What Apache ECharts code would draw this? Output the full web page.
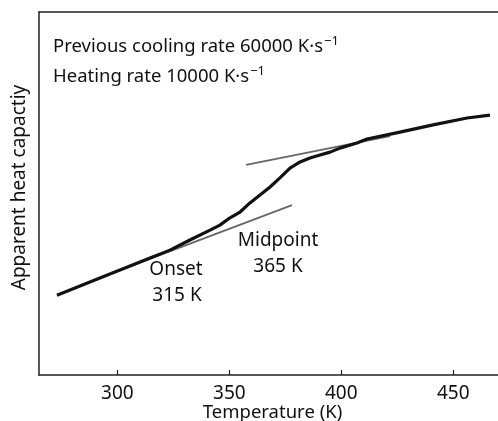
<!DOCTYPE html>
<html><head><meta charset="utf-8">
<script src="https://cdn.jsdelivr.net/npm/echarts@6/dist/echarts.min.js"></script>
<style>html,body{margin:0;padding:0;background:#fff}#c{width:498px;height:421px}</style>
</head><body><div id="c"></div>
<script>
// Temperature (K) and apparent heat capacity (arbitrary units, 0-100 scale)
const curveT = [273.0, 283.3, 292.2, 303.4, 314.6, 323.5, 332.4, 341.4, 345.8, 350.3, 354.8, 359.2, 363.7, 368.2, 372.6, 377.1, 381.6, 386.0, 390.5, 395.0, 399.4, 407.0, 411.5, 426.2, 441.0, 456.2, 466.4];
const curveCp = [22.0, 24.5, 26.7, 29.5, 32.2, 34.4, 37.2, 39.9, 41.3, 43.3, 44.9, 47.4, 49.6, 51.8, 54.3, 57.0, 58.7, 59.8, 60.6, 61.4, 62.5, 63.9, 65.0, 66.9, 68.9, 70.8, 71.6];
const lowTangentT = [301.2, 378.0];
const lowTangentCp = [28.9, 46.8];
const highTangentT = [357.5, 421.8];
const highTangentCp = [57.9, 65.8];
const xTicks = [300, 350, 400, 450];
const xName = 'Temperature (K)';
const yName = 'Apparent heat capactiy';
const note1 = 'Previous cooling rate 60000 K·s';
const note2 = 'Heating rate 10000 K·s';
const supText = '−1';
const onsetText = ['Onset', '315 K'];
const midText = ['Midpoint', '365 K'];

const zip = (a, b) => a.map((v, i) => [v, b[i]]);
const FONT = 'Noto Sans';
const chart = echarts.init(document.getElementById('c'), null, {renderer: 'canvas'});
const supRich = {
  a: {fontFamily: FONT, fontSize: 18.5, fill: '#111'},
  s: {fontFamily: FONT, fontSize: 13, fill: '#111', verticalAlign: 'top', padding: [0, 0, 10, 1]}
};
chart.setOption({
  animation: false,
  backgroundColor: '#fff',
  grid: {left: 39, right: 0, top: 12, bottom: 46, containLabel: false, outerBoundsMode: 'none'},
  xAxis: [{
    type: 'value', min: 265, max: 470,
    name: xName, nameLocation: 'middle', nameGap: 28, nameMoveOverlap: false,
    nameTextStyle: {fontFamily: FONT, fontSize: 18.5, color: '#111', padding: [0, 0, 0, 8]},
    axisLine: {show: true, lineStyle: {color: '#222', width: 1.5}},
    axisTick: {show: true, inside: true, length: 5, customValues: xTicks, lineStyle: {color: '#222', width: 1.2}},
    axisLabel: {customValues: xTicks, margin: 9, fontFamily: FONT, fontSize: 19, color: '#111'},
    splitLine: {show: false}
  }, {
    type: 'value', min: 265, max: 470, position: 'top',
    axisLine: {show: true, lineStyle: {color: '#222', width: 1.5}},
    axisTick: {show: false}, axisLabel: {show: false}, splitLine: {show: false}
  }],
  yAxis: {
    type: 'value', min: 0, max: 100,
    name: yName, nameLocation: 'middle', nameGap: 10, nameMoveOverlap: false,
    nameTextStyle: {fontFamily: FONT, fontSize: 19, color: '#111', padding: [0, 0, 0, 12]},
    axisLine: {show: true, lineStyle: {color: '#222', width: 1.5}},
    axisTick: {show: false}, axisLabel: {show: false}, splitLine: {show: false}
  },
  series: [
    {type: 'line', data: zip(lowTangentT, lowTangentCp), showSymbol: false, lineStyle: {color: '#666', width: 1.8}, z: 2},
    {type: 'line', data: zip(highTangentT, highTangentCp), showSymbol: false, lineStyle: {color: '#666', width: 1.8}, z: 2},
    {type: 'line', data: zip(curveT, curveCp), showSymbol: false, lineStyle: {color: '#111', width: 3.2, join: 'round'}, z: 3}
  ],
  graphic: [
    {type: 'text', left: 53, top: 35, style: {text: '{a|' + note1 + '}{s|' + supText + '}', rich: supRich}},
    {type: 'text', left: 53, top: 65, style: {text: '{a|' + note2 + '}{s|' + supText + '}', rich: supRich}},
    {type: 'text', x: 176, y: 270, style: {text: onsetText[0], font: '19px "Noto Sans"', fill: '#111', align: 'center', verticalAlign: 'middle'}},
    {type: 'text', x: 177, y: 296, style: {text: onsetText[1], font: '19px "Noto Sans"', fill: '#111', align: 'center', verticalAlign: 'middle'}},
    {type: 'text', x: 278, y: 241, style: {text: midText[0], font: '19px "Noto Sans"', fill: '#111', align: 'center', verticalAlign: 'middle'}},
    {type: 'text', x: 278, y: 267, style: {text: midText[1], font: '19px "Noto Sans"', fill: '#111', align: 'center', verticalAlign: 'middle'}}
  ]
});
</script></body></html>
